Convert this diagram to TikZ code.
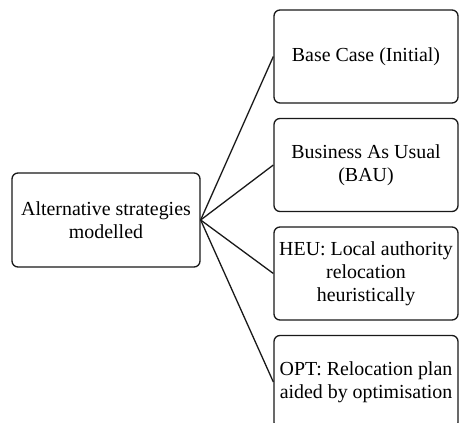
\documentclass[tikz,border=0pt]{standalone}
\usepackage{fontspec}
\setmainfont{Liberation Serif}
\usepackage{tikz}

\begin{document}
\begin{tikzpicture}[x=1pt,y=1pt,
  box/.style={draw=black!90, line width=1.3pt, rounded corners=6pt, align=center,
    inner sep=0pt, font=\fontsize{19.9}{23}\selectfont},
  side/.style={box, minimum width=184, minimum height=93}]

\useasboundingbox (0,0) rectangle (459,423);

\node[box, minimum width=188, minimum height=94] (alt) at (106,203) {Alternative strategies\\modelled};

\node[side] (base) at (366,366.5) {Base Case (Initial)};
\node[side] (bau) at (366,258) {Business As Usual\\(BAU)};
\node[side] (heu) at (366,149.5) {HEU: Local authority\\relocation\\heuristically};
\node[side] (opt) at (366,41) {OPT: Relocation plan\\aided by optimisation};


\draw[line width=1.3pt, black!90] (alt.east) -- (base.west);
\draw[line width=1.3pt, black!90] (alt.east) -- (bau.west);
\draw[line width=1.3pt, black!90] (alt.east) -- (heu.west);
\draw[line width=1.3pt, black!90] (alt.east) -- (opt.west);
\end{tikzpicture}
\end{document}
